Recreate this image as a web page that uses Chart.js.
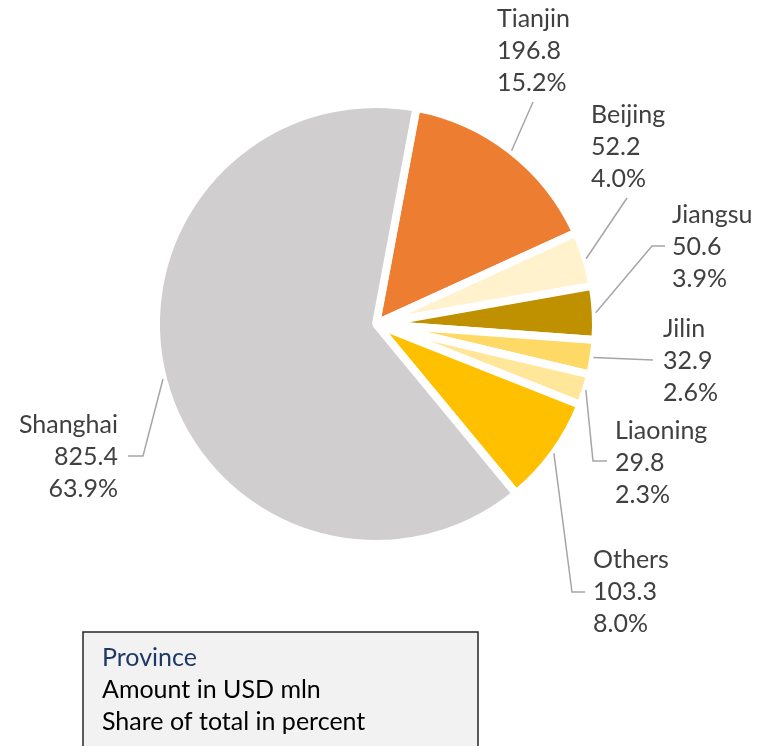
<!DOCTYPE html>
<html>
<head>
<meta charset="utf-8">
<script src="https://cdn.jsdelivr.net/npm/chart.js@4.4.1/dist/chart.umd.min.js"></script>
<style>
  html, body { margin: 0; padding: 0; background: #ffffff; }
  #wrap { width: 773px; height: 746px; position: relative; overflow: hidden; }
</style>
</head>
<body>
<div id="wrap"><canvas id="chart" width="773" height="746"></canvas></div>
<script>
// Investment by province (USD mln) and each province's share of the total
const provinces = ['Tianjin', 'Beijing', 'Jiangsu', 'Jilin', 'Liaoning', 'Others', 'Shanghai'];
const amounts   = [196.8, 52.2, 50.6, 32.9, 29.8, 103.3, 825.4];
const shares    = [15.2, 4.0, 3.9, 2.6, 2.3, 8.0, 63.9];
const sliceColors = ['#ed7d31', '#fff2cc', '#bf9000', '#ffd966', '#ffe699', '#ffc000', '#d0cece'];

// Key box lines
const keyLines = ['Province', 'Amount in USD mln', 'Share of total in percent'];

// Label placement: text anchor (x, first baseline), alignment,
// and the leader-line points that follow the point on the slice edge.
const labelLayout = [
  { x: 497, y: 27,  align: 'left',  path: [[533, 102]] },
  { x: 591, y: 123, align: 'left',  path: [[627, 198]] },
  { x: 672, y: 223, align: 'left',  path: [[652, 246], [665, 246]] },
  { x: 663, y: 337, align: 'left',  path: [[653, 360]] },
  { x: 615, y: 439, align: 'left',  path: [[593, 461], [607, 461]] },
  { x: 593, y: 568, align: 'left',  path: [[572, 592], [585, 592]] },
  { x: 118, y: 433, align: 'right', path: [[143, 456], [128, 456]] }
];

const FONT = '25px Lato, "Open Sans", sans-serif';
const LINE_GAP = 32;

const labelPlugin = {
  id: 'sliceLabels',
  afterDraw(chart) {
    const ctx = chart.ctx;
    const meta = chart.getDatasetMeta(0);
    ctx.save();
    meta.data.forEach((arc, i) => {
      const p = arc.getProps(['x', 'y', 'startAngle', 'endAngle', 'outerRadius'], true);
      const mid = (p.startAngle + p.endAngle) / 2;
      const sx = p.x + Math.cos(mid) * p.outerRadius;
      const sy = p.y + Math.sin(mid) * p.outerRadius;
      const lay = labelLayout[i];
      // leader line
      ctx.beginPath();
      ctx.moveTo(sx, sy);
      lay.path.forEach(pt => ctx.lineTo(pt[0], pt[1]));
      ctx.strokeStyle = '#a6a6a6';
      ctx.lineWidth = 1.5;
      ctx.stroke();
      // three-line label
      ctx.fillStyle = '#404040';
      ctx.font = FONT;
      ctx.textAlign = lay.align;
      ctx.textBaseline = 'alphabetic';
      const lines = [provinces[i], amounts[i].toFixed(1), shares[i].toFixed(1) + '%'];
      lines.forEach((t, k) => ctx.fillText(t, lay.x, lay.y + k * LINE_GAP));
    });

    // key box
    ctx.fillStyle = '#f2f2f2';
    ctx.fillRect(83, 632, 395, 130);
    ctx.strokeStyle = '#262626';
    ctx.lineWidth = 1.5;
    ctx.strokeRect(83, 632, 395, 130);
    ctx.font = FONT;
    ctx.textAlign = 'left';
    keyLines.forEach((t, k) => {
      ctx.fillStyle = k === 0 ? '#203864' : '#000000';
      ctx.fillText(t, 102, 666 + k * LINE_GAP);
    });
    ctx.restore();
  }
};

new Chart(document.getElementById('chart'), {
  type: 'pie',
  data: {
    labels: provinces,
    datasets: [{
      data: amounts,
      backgroundColor: sliceColors,
      borderColor: '#ffffff',
      borderWidth: 8,
      radius: 220
    }]
  },
  options: {
    responsive: false,
    animation: false,
    rotation: 10.6,
    radius: 220,
    layout: { padding: { left: 0, right: 21, top: 0, bottom: 98 } },
    plugins: {
      legend: { display: false },
      tooltip: { enabled: false }
    }
  },
  plugins: [labelPlugin]
});
</script>
</body>
</html>
